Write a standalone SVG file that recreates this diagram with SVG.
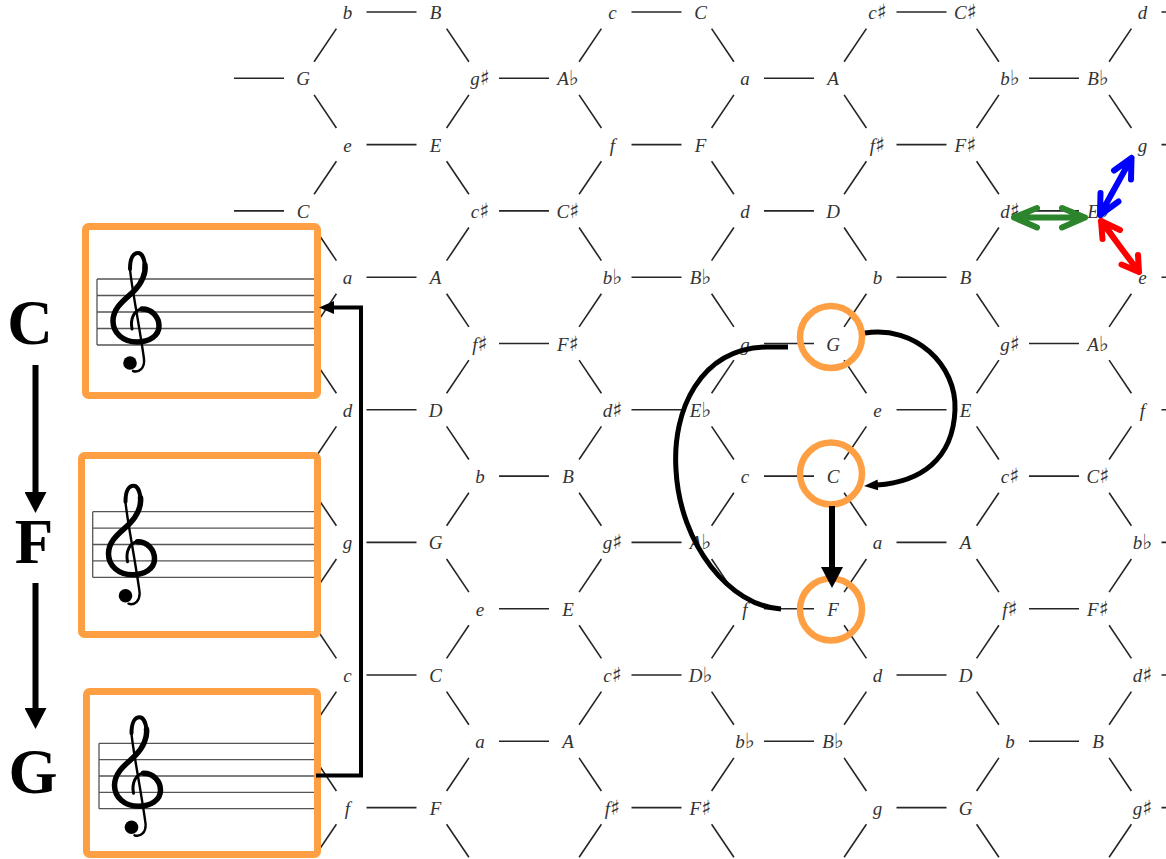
<svg xmlns="http://www.w3.org/2000/svg" xmlns:xlink="http://www.w3.org/1999/xlink" width="1166" height="859" viewBox="0 0 1166 859">
<style>
.edge{fill:none;stroke:#262626;stroke-width:1.6}
.lbl{font-family:"Liberation Serif","DejaVu Serif",serif;font-style:italic;font-size:19px;fill:#333;text-anchor:middle}
.acc{font-family:"DejaVu Sans",sans-serif;font-style:normal;font-size:21px}
.box{fill:#fff;stroke:#FF9F43;stroke-width:7}
.ring{fill:none;stroke:#FF9F43;stroke-width:6.5}
.staff{stroke:#555;stroke-width:1.3;fill:none}
.big{font-family:"Liberation Serif","Times New Roman",serif;font-weight:bold;font-size:63px;fill:#000;text-anchor:middle}
.blk{fill:none;stroke:#000}
.dbl{fill:none;stroke-width:6;stroke-linecap:round;stroke-linejoin:round}
</style>
<defs>
<g id="period">
<path d="M366.5 12H416.5M631.5 12H681.5M896.5 12H946.5M1161.5 12H1211.5M234 78.3H284M499 78.3H549M764 78.3H814M1029 78.3H1079M336.4 28.6l-22.3 33.1M446.6 28.6l22.3 33.1M601.4 28.6l-22.3 33.1M711.6 28.6l22.3 33.1M866.4 28.6l-22.3 33.1M976.6 28.6l22.3 33.1M1131.4 28.6l-22.3 33.1M314.1 94.9l22.3 33.1M468.9 94.9l-22.3 33.1M579.1 94.9l22.3 33.1M733.9 94.9l-22.3 33.1M844.1 94.9l22.3 33.1M998.9 94.9l-22.3 33.1M1109.1 94.9l22.3 33.1"/>
</g>
<g id="clef" fill="none" stroke="#000" stroke-linecap="round">
<path stroke-width="3" d="M-4 50C-6 40 -2 31 6 30"/>
<path stroke-width="5.5" d="M6 30C16 30 23 38 23 47C23 57 13 63 1 63C-13 63 -23 54 -23 42C-23 28 -10 20 -2 12C6 4 10 -6 9 -14"/>
<path stroke-width="4" d="M9 -14C8 -22 5 -26 2 -26C-3 -26 -6 -20 -6 -10"/>
<path stroke-width="2.4" d="M-6 -10C-5 5 4 50 8 80C9 89 3 94 -3 92"/>
<circle cx="-6" cy="84" r="6.8" fill="#000" stroke="none"/>
</g>
<marker id="head-lg" markerUnits="userSpaceOnUse" markerWidth="21" markerHeight="22" viewBox="0 0 21 22" refX="1" refY="11" orient="auto"><path d="M0 0L21 11L0 22z" fill="#000"/></marker>
<marker id="head-md" markerUnits="userSpaceOnUse" markerWidth="15" markerHeight="13" viewBox="0 0 15 13" refX="1" refY="6.5" orient="auto"><path d="M0 0L15 6.5L0 13z" fill="#000"/></marker>
<marker id="head-sm" markerUnits="userSpaceOnUse" markerWidth="14" markerHeight="11" viewBox="0 0 14 11" refX="1" refY="5.5" orient="auto"><path d="M0 0L14 5.5L0 11z" fill="#000"/></marker>
</defs>
<rect width="1166" height="859" fill="#fff"/>
<g id="connectors" class="edge">
<use xlink:href="#period" href="#period"/>
<use xlink:href="#period" href="#period" y="132.6"/>
<use xlink:href="#period" href="#period" y="265.2"/>
<use xlink:href="#period" href="#period" y="397.8"/>
<use xlink:href="#period" href="#period" y="530.4"/>
<use xlink:href="#period" href="#period" y="663"/>
<use xlink:href="#period" href="#period" y="795.6"/>
</g>
<g id="nodes" class="lbl">
<g id="r0c1"><text x="347.5" y="19">b</text></g>
<g id="r0c2"><text x="435.5" y="19">B</text></g>
<g id="r0c5"><text x="612.5" y="19">c</text></g>
<g id="r0c6"><text x="700.5" y="19">C</text></g>
<g id="r0c9"><text x="877.5" y="19">c<tspan class="acc">♯</tspan></text></g>
<g id="r0c10"><text x="965.5" y="19">C<tspan class="acc">♯</tspan></text></g>
<g id="r0c13"><text x="1142.5" y="19">d</text></g>
<g id="r1c0"><text x="303" y="85.3">G</text></g>
<g id="r1c3"><text x="480" y="85.3">g<tspan class="acc">♯</tspan></text></g>
<g id="r1c4"><text x="568" y="85.3">A<tspan class="acc">♭</tspan></text></g>
<g id="r1c7"><text x="745" y="85.3">a</text></g>
<g id="r1c8"><text x="833" y="85.3">A</text></g>
<g id="r1c11"><text x="1010" y="85.3">b<tspan class="acc">♭</tspan></text></g>
<g id="r1c12"><text x="1098" y="85.3">B<tspan class="acc">♭</tspan></text></g>
<g id="r2c1"><text x="347.5" y="151.6">e</text></g>
<g id="r2c2"><text x="435.5" y="151.6">E</text></g>
<g id="r2c5"><text x="612.5" y="151.6">f</text></g>
<g id="r2c6"><text x="700.5" y="151.6">F</text></g>
<g id="r2c9"><text x="877.5" y="151.6">f<tspan class="acc">♯</tspan></text></g>
<g id="r2c10"><text x="965.5" y="151.6">F<tspan class="acc">♯</tspan></text></g>
<g id="r2c13"><text x="1142.5" y="151.6">g</text></g>
<g id="r3c0"><text x="303" y="217.9">C</text></g>
<g id="r3c3"><text x="480" y="217.9">c<tspan class="acc">♯</tspan></text></g>
<g id="r3c4"><text x="568" y="217.9">C<tspan class="acc">♯</tspan></text></g>
<g id="r3c7"><text x="745" y="217.9">d</text></g>
<g id="r3c8"><text x="833" y="217.9">D</text></g>
<g id="r3c11"><text x="1010" y="217.9">d<tspan class="acc">♯</tspan></text></g>
<g id="r3c12"><text x="1098" y="217.9">E<tspan class="acc">♭</tspan></text></g>
<g id="r4c1"><text x="347.5" y="284.2">a</text></g>
<g id="r4c2"><text x="435.5" y="284.2">A</text></g>
<g id="r4c5"><text x="612.5" y="284.2">b<tspan class="acc">♭</tspan></text></g>
<g id="r4c6"><text x="700.5" y="284.2">B<tspan class="acc">♭</tspan></text></g>
<g id="r4c9"><text x="877.5" y="284.2">b</text></g>
<g id="r4c10"><text x="965.5" y="284.2">B</text></g>
<g id="r4c13"><text x="1142.5" y="284.2">e</text></g>
<g id="r5c3"><text x="480" y="350.5">f<tspan class="acc">♯</tspan></text></g>
<g id="r5c4"><text x="568" y="350.5">F<tspan class="acc">♯</tspan></text></g>
<g id="r5c7"><text x="745" y="350.5">g</text></g>
<g id="r5c8"><text x="833" y="350.5">G</text></g>
<g id="r5c11"><text x="1010" y="350.5">g<tspan class="acc">♯</tspan></text></g>
<g id="r5c12"><text x="1098" y="350.5">A<tspan class="acc">♭</tspan></text></g>
<g id="r6c1"><text x="347.5" y="416.8">d</text></g>
<g id="r6c2"><text x="435.5" y="416.8">D</text></g>
<g id="r6c5"><text x="612.5" y="416.8">d<tspan class="acc">♯</tspan></text></g>
<g id="r6c6"><text x="700.5" y="416.8">E<tspan class="acc">♭</tspan></text></g>
<g id="r6c9"><text x="877.5" y="416.8">e</text></g>
<g id="r6c10"><text x="965.5" y="416.8">E</text></g>
<g id="r6c13"><text x="1142.5" y="416.8">f</text></g>
<g id="r7c3"><text x="480" y="483.1">b</text></g>
<g id="r7c4"><text x="568" y="483.1">B</text></g>
<g id="r7c7"><text x="745" y="483.1">c</text></g>
<g id="r7c8"><text x="833" y="483.1">C</text></g>
<g id="r7c11"><text x="1010" y="483.1">c<tspan class="acc">♯</tspan></text></g>
<g id="r7c12"><text x="1098" y="483.1">C<tspan class="acc">♯</tspan></text></g>
<g id="r8c1"><text x="347.5" y="549.4">g</text></g>
<g id="r8c2"><text x="435.5" y="549.4">G</text></g>
<g id="r8c5"><text x="612.5" y="549.4">g<tspan class="acc">♯</tspan></text></g>
<g id="r8c6"><text x="700.5" y="549.4">A<tspan class="acc">♭</tspan></text></g>
<g id="r8c9"><text x="877.5" y="549.4">a</text></g>
<g id="r8c10"><text x="965.5" y="549.4">A</text></g>
<g id="r8c13"><text x="1142.5" y="549.4">b<tspan class="acc">♭</tspan></text></g>
<g id="r9c3"><text x="480" y="615.7">e</text></g>
<g id="r9c4"><text x="568" y="615.7">E</text></g>
<g id="r9c7"><text x="745" y="615.7">f</text></g>
<g id="r9c8"><text x="833" y="615.7">F</text></g>
<g id="r9c11"><text x="1010" y="615.7">f<tspan class="acc">♯</tspan></text></g>
<g id="r9c12"><text x="1098" y="615.7">F<tspan class="acc">♯</tspan></text></g>
<g id="r10c1"><text x="347.5" y="682">c</text></g>
<g id="r10c2"><text x="435.5" y="682">C</text></g>
<g id="r10c5"><text x="612.5" y="682">c<tspan class="acc">♯</tspan></text></g>
<g id="r10c6"><text x="700.5" y="682">D<tspan class="acc">♭</tspan></text></g>
<g id="r10c9"><text x="877.5" y="682">d</text></g>
<g id="r10c10"><text x="965.5" y="682">D</text></g>
<g id="r10c13"><text x="1142.5" y="682">d<tspan class="acc">♯</tspan></text></g>
<g id="r11c3"><text x="480" y="748.3">a</text></g>
<g id="r11c4"><text x="568" y="748.3">A</text></g>
<g id="r11c7"><text x="745" y="748.3">b<tspan class="acc">♭</tspan></text></g>
<g id="r11c8"><text x="833" y="748.3">B<tspan class="acc">♭</tspan></text></g>
<g id="r11c11"><text x="1010" y="748.3">b</text></g>
<g id="r11c12"><text x="1098" y="748.3">B</text></g>
<g id="r12c1"><text x="347.5" y="814.6">f</text></g>
<g id="r12c2"><text x="435.5" y="814.6">F</text></g>
<g id="r12c5"><text x="612.5" y="814.6">f<tspan class="acc">♯</tspan></text></g>
<g id="r12c6"><text x="700.5" y="814.6">F<tspan class="acc">♯</tspan></text></g>
<g id="r12c9"><text x="877.5" y="814.6">g</text></g>
<g id="r12c10"><text x="965.5" y="814.6">G</text></g>
<g id="r12c13"><text x="1142.5" y="814.6">g<tspan class="acc">♯</tspan></text></g>
</g>
<g id="staff-C">
<rect class="box" x="85.5" y="226.5" width="232" height="169" rx="3"/>
<path class="staff" d="M97 279H314M97 295.5H314M97 312H314M97 328.5H314M97 345H314M97 279V345"/>
<use xlink:href="#clef" href="#clef" transform="translate(136 279)"/>
</g>
<g id="staff-F">
<rect class="box" x="81.5" y="455.5" width="236" height="179" rx="3"/>
<path class="staff" d="M92.7 511.7H314M92.7 528.1H314M92.7 544.5H314M92.7 560.9H314M92.7 577.3H314M92.7 511.7V577.3"/>
<use xlink:href="#clef" href="#clef" transform="translate(131.5 511.7)"/>
</g>
<g id="staff-G">
<rect class="box" x="86.5" y="691.5" width="231" height="163" rx="3"/>
<path class="staff" d="M99 743.3H314M99 759.6H314M99 776H314M99 792.3H314M99 808.7H314M99 743.3V808.7"/>
<use xlink:href="#clef" href="#clef" transform="translate(137.5 743.3)"/>
</g>
<g id="chord-C"><text class="big" x="30" y="344">C</text></g>
<g id="chord-F"><text class="big" x="34" y="563">F</text></g>
<g id="chord-G"><text class="big" x="33" y="793">G</text></g>
<g id="ring-G"><circle class="ring" cx="831" cy="337" r="31"/></g>
<g id="ring-C"><circle class="ring" cx="831" cy="473.5" r="31"/></g>
<g id="ring-F"><circle class="ring" cx="831" cy="609.5" r="31"/></g>
<g id="arrows">
<path class="blk" stroke-width="6" d="M35.5 365V493" marker-end="url(#head-lg)"/>
<path class="blk" stroke-width="6" d="M35.5 583V709" marker-end="url(#head-lg)"/>
<path class="blk" stroke-width="4" d="M316 775.5H361V307.5H333" marker-end="url(#head-md)"/>
<path class="blk" stroke-width="6" d="M832 506V568" marker-end="url(#head-lg)"/>
<path class="blk" stroke-width="5" d="M865 333C915 325 957 365 955 410C953 460 920 482 877 485" marker-end="url(#head-sm)"/>
<path class="blk" stroke-width="5" d="M788 347L766 347C700 349 672 410 676 470C680 545 730 606 781 609"/>
<g id="arrow-green" class="dbl" stroke="#2C852C"><path d="M1014 217.5H1085M1037 208L1014 217.5L1037 227.5M1062 208L1085 217.5L1062 227.5"/></g>
<g id="arrow-blue" class="dbl" stroke="#0000FF"><path d="M1100 215L1131.5 158M1114 170.5L1131.5 158L1131 179.5M1100.5 193L1100 215L1118.5 201.5"/></g>
<g id="arrow-red" class="dbl" stroke="#FF0000"><path d="M1101 221L1139 272M1102.5 239L1101 221L1120 230M1121.5 264.5L1139 272L1138 255"/></g>
</g>
</svg>
